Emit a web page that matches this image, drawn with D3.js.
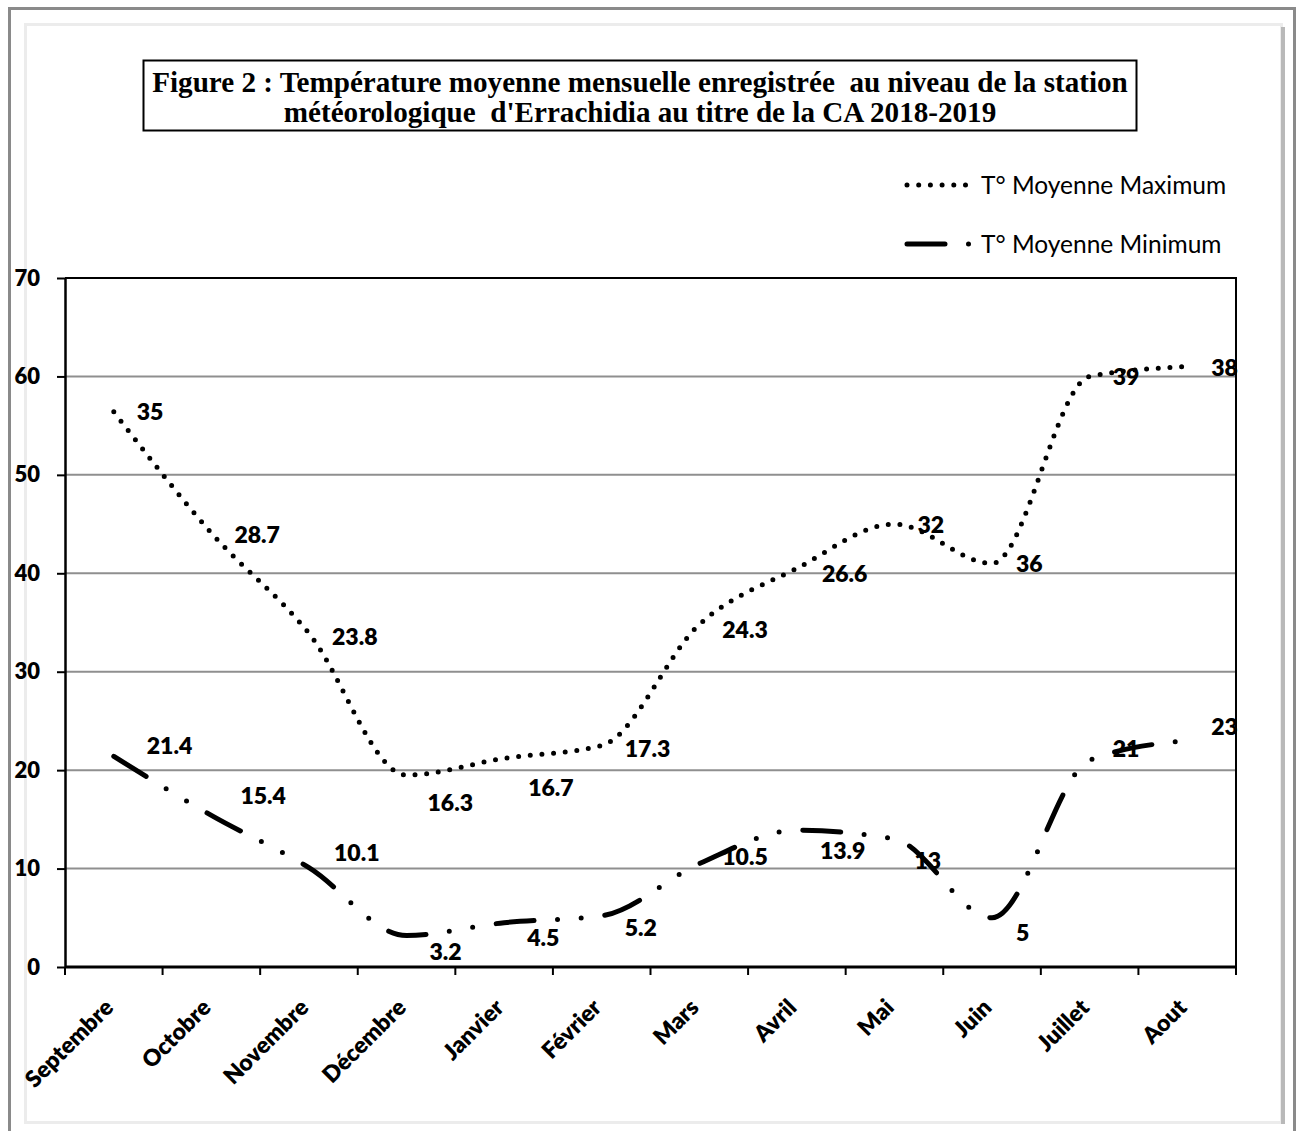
<!DOCTYPE html>
<html>
<head>
<meta charset="utf-8">
<script src="https://cdn.jsdelivr.net/npm/d3@7"></script>
<style>
  body { margin: 0; background: #fff; }
  svg { display: block; }
</style>
</head>
<body>
<svg id="chart" width="1300" height="1131"></svg>
<script>
// chart values
const months = ["Septembre", "Octobre", "Novembre", "Décembre", "Janvier", "Février",
                "Mars", "Avril", "Mai", "Juin", "Juillet", "Aout"];
const tMin = [21.4, 15.4, 10.1, 3.2, 4.5, 5.2, 10.5, 13.9, 13, 5, 21, 23];
const tMax = [35, 28.7, 23.8, 16.3, 16.7, 17.3, 24.3, 26.6, 32, 36, 39, 38];
const yTicks = [0, 10, 20, 30, 40, 50, 60, 70];
const seriesNames = ["T° Moyenne Maximum", "T° Moyenne Minimum"];
const titleLines = [
    "Figure 2 : Température moyenne mensuelle enregistrée  au niveau de la station",
    "météorologique  d'Errachidia au titre de la CA 2018-2019"
];

// label nudges (px) where the labels were moved by hand in the original
const maxLabelNudge = [[0,0],[0,2],[0,3],[-2,28],[1,29],[0,3],[0,5],[2,5],[0,1],[1,0],[0,0],[1,1]];
const minLabelNudge = [[10,-11],[6,-20],[2,-15],[0,16],[0,15],[0,12],[0,-7],[0,21],[-3,22],[1,15],[0,-12],[1,-14]];

const width = 1300;
const height = 1131;
const margin = { top: 278, right: 64, bottom: 164, left: 65 };

const dottedDash = "0 11.7";
const dashDotDot = "38 23.5 0 23.7 0 23.8";
const labelFont = "Lato, sans-serif";

const svg = d3.select("#chart");

// outer frame + inner shadowed panel
svg.append("rect")
    .attr("x", 9.5).attr("y", 8.5)
    .attr("width", 1285).attr("height", 1150)
    .attr("fill", "none").attr("stroke", "#8a8a8a").attr("stroke-width", 3);
svg.append("rect")
    .attr("x", 25.5).attr("y", 24.5)
    .attr("width", 1256).attr("height", 1098)
    .attr("fill", "none").attr("stroke", "#ececec").attr("stroke-width", 3);
svg.append("line")
    .attr("x1", 1283).attr("x2", 1283).attr("y1", 27).attr("y2", 1124)
    .attr("stroke", "#b9b9b9").attr("stroke-width", 4);

// title box
const titleBox = svg.append("g");
titleBox.append("rect")
    .attr("x", 143.5).attr("y", 60.5)
    .attr("width", 993).attr("height", 70)
    .attr("fill", "#fff").attr("stroke", "#000").attr("stroke-width", 2);
const titleText = titleBox.selectAll("text")
    .data(titleLines)
    .join("text")
    .attr("x", 640)
    .attr("y", (d, i) => 92 + i * 30)
    .attr("text-anchor", "middle")
    .attr("font-family", "'Liberation Serif', serif")
    .attr("font-weight", "bold")
    .attr("font-size", 24)
    .style("white-space", "pre")
    .text(d => d);
// fit first line to the width it has in the figure
const w0 = titleText.node().getComputedTextLength();
titleText.attr("font-size", 24 * 976 / w0);

// stacked values (Excel "line stacked")
const rows = months.map((m, i) => ({ month: m, tMin: tMin[i], tMax: tMax[i] }));
const stacked = d3.stack().keys(["tMin", "tMax"])(rows);

const x = d3.scaleBand()
    .domain(months)
    .range([margin.left, width - margin.right])
    .padding(0);

const y = d3.scaleLinear()
    .domain([0, 70])
    .range([height - margin.bottom, margin.top]);

const cx = m => x(m) + x.bandwidth() / 2;

// gridlines
svg.append("g")
    .selectAll("line")
    .data(yTicks.filter(t => t > 0 && t < 70))
    .join("line")
    .attr("x1", margin.left).attr("x2", width - margin.right)
    .attr("y1", d => y(d)).attr("y2", d => y(d))
    .attr("stroke", "#8f8f8f").attr("stroke-width", 2);

// plot border (top / right)
svg.append("path")
    .attr("d", `M${margin.left},${y(70)}H${width - margin.right}V${y(0)}`)
    .attr("fill", "none").attr("stroke", "#000").attr("stroke-width", 2);

// y axis
svg.append("g")
    .attr("transform", `translate(${margin.left},0)`)
    .call(d3.axisLeft(y).tickValues(yTicks).tickSize(8).tickPadding(17).tickSizeOuter(0))
    .call(g => g.select(".domain").attr("stroke-width", 2.5))
    .call(g => g.selectAll(".tick line").attr("stroke-width", 2))
    .call(g => g.selectAll("text")
        .attr("font-family", labelFont)
        .attr("font-weight", 800)
        .attr("font-size", 22)
        .attr("fill", "#000"));

// x axis: ticks on band edges
const xAxis = svg.append("g")
    .attr("transform", `translate(0,${y(0)})`);
xAxis.append("line")
    .attr("x1", margin.left).attr("x2", width - margin.right)
    .attr("stroke", "#000").attr("stroke-width", 3);
xAxis.selectAll(".edge")
    .data(months.map(m => x(m)).concat([width - margin.right]))
    .join("line")
    .attr("class", "edge")
    .attr("x1", d => d).attr("x2", d => d)
    .attr("y1", 0).attr("y2", 8)
    .attr("stroke", "#000").attr("stroke-width", 2);
xAxis.selectAll("text")
    .data(months)
    .join("text")
    .attr("transform", d => `translate(${cx(d) + 1},${1009 - y(0)}) rotate(-45)`)
    .attr("text-anchor", "end")
    .attr("font-family", labelFont)
    .attr("font-weight", 800)
    .attr("font-size", 23)
    .text(d => d);

// lines
const line = d3.line()
    .x(d => cx(d.data.month))
    .y(d => y(d[1]))
    .curve(d3.curveMonotoneX);

const styles = [dashDotDot, dottedDash]; // tMin, tMax
svg.append("g")
    .selectAll("path")
    .data(stacked)
    .join("path")
    .attr("d", line)
    .attr("fill", "none")
    .attr("stroke", "#000")
    .attr("stroke-width", 5)
    .attr("stroke-linecap", "round")
    .attr("stroke-linejoin", "round")
    .attr("stroke-dasharray", (d, i) => styles[i]);

// data labels (show the raw values, not the stacked sums)
const nudges = [minLabelNudge, maxLabelNudge];
const raw = [tMin, tMax];
stacked.forEach((s, k) => {
    svg.append("g")
        .selectAll("text")
        .data(s)
        .join("text")
        .attr("x", (d, i) => cx(d.data.month) + 23 + nudges[k][i][0])
        .attr("y", (d, i) => y(d[1]) + nudges[k][i][1])
        .attr("dy", "0.36em")
        .attr("font-family", labelFont)
        .attr("font-weight", 800)
        .attr("font-size", 23)
        .text((d, i) => raw[k][i]);
});

// legend
const legend = svg.append("g");
const legendItems = [
    { name: seriesNames[0], dash: dottedDash, y: 185 },
    { name: seriesNames[1], dash: dashDotDot, y: 244 }
];
legendItems.forEach(item => {
    legend.append("line")
        .attr("x1", 907).attr("x2", 969.5)
        .attr("y1", item.y).attr("y2", item.y)
        .attr("stroke", "#000").attr("stroke-width", 5)
        .attr("stroke-linecap", "round")
        .attr("stroke-dasharray", item.dash);
    legend.append("text")
        .attr("x", 981).attr("y", item.y)
        .attr("dy", "0.36em")
        .attr("font-family", labelFont)
        .attr("font-size", 24.5)
        .text(item.name);
});
</script>
</body>
</html>
